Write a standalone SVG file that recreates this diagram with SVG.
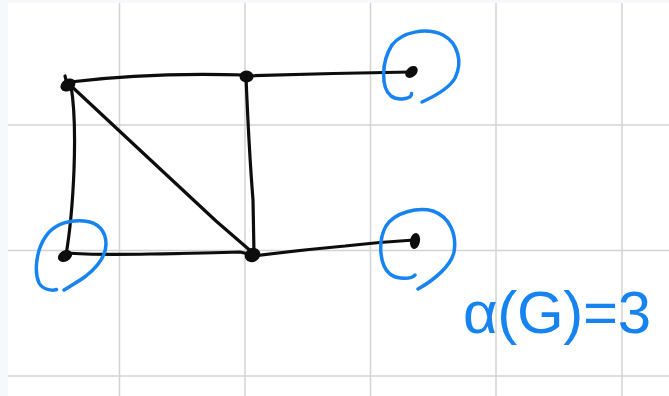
<svg xmlns="http://www.w3.org/2000/svg" width="669" height="396" viewBox="0 0 669 396">
<style>
.grid{stroke:#d3d3d3;stroke-width:1.5;fill:none}
.edge{stroke:#0d0d0d;stroke-width:3.2;fill:none;stroke-linecap:round;stroke-linejoin:round}
.vtx{fill:#0d0d0d}
.ring{stroke:#1683f0;stroke-width:3.5;fill:none;stroke-linecap:round;stroke-linejoin:round}
.lbl{font-family:"Liberation Sans",Arial,sans-serif;font-size:60px;fill:#1683f0}
</style>
<rect x="0" y="0" width="669" height="396" fill="#f7f8fc"/>
<rect x="8" y="3" width="661" height="393" fill="#ffffff"/>
<g id="grid">
<path class="grid" d="M119.5,3V396M245,3V396M370.5,3V396M496,3V396M622,3V396M8,125H669M8,250.5H669M8,376H669"/>
</g>
<g id="connectors">
<path class="edge" d="M70,82 Q150,72 246,75"/>
<path class="edge" d="M246,76 Q330,73 411,72"/>
<path class="edge" d="M71,86 Q76,115 74,170 Q72,220 66,255"/>
<path class="edge" d="M69,84 L216,221 L253,253"/>
<path class="edge" d="M246,77 Q249,150 253,200 L254,254"/>
<path class="edge" d="M66,253 Q90,255 150,254 Q210,253 240,252 L253,255"/>
<path class="edge" d="M253,256 Q300,250 345,246 Q380,242 414,240"/>
</g>
<g id="node-a"><ellipse class="vtx" cx="68" cy="85" rx="8" ry="6" transform="rotate(-30 68 85)"/><path class="edge" d="M66,80 L65,76"/></g>
<g id="node-b"><ellipse class="vtx" cx="246.5" cy="76.5" rx="7" ry="6"/></g>
<g id="node-c"><ellipse class="vtx" cx="411.5" cy="72" rx="7" ry="5" transform="rotate(-40 411.5 72)"/></g>
<g id="node-d"><ellipse class="vtx" cx="65" cy="256" rx="7.5" ry="5.5" transform="rotate(-30 65 256)"/></g>
<g id="node-e"><ellipse class="vtx" cx="252.5" cy="255" rx="8" ry="7" transform="rotate(-30 252.5 255)"/></g>
<g id="node-f"><ellipse class="vtx" cx="415" cy="241" rx="5" ry="8" transform="rotate(10 415 241)"/></g>
<g id="ring-c"><path class="ring" d="M411.5,93.5 C412,99 398,101 391,96 C381,88 381,62 392,45 C402,32 426,27 443,35 C458,43 463,62 455,78 C449,89 433,97 422,102"/></g>
<g id="ring-f"><path class="ring" d="M415,275 C412,279 398,280 390,274 C379,265 378,240 386,226 C395,212 418,207 433,211 C450,217 457,235 454,252 C451,266 434,280 418,289"/></g>
<g id="ring-d"><path class="ring" d="M56.5,289.5 C52,291 43,290 39,283 C34,272 36,250 46,236 C54,225 68,220 84,221 C98,222 106,231 106,244 C106,258 96,268 86,276 C78,282 70,286 64,290"/></g>
<g id="label"><text class="lbl" x="463" y="333" textLength="188" lengthAdjust="spacing">α(G)=3</text></g>
</svg>
